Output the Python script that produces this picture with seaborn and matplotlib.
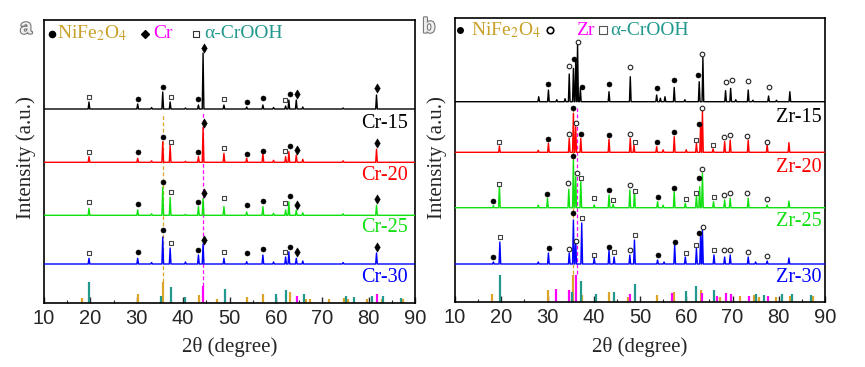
import matplotlib
matplotlib.use("Agg")
import matplotlib.pyplot as plt
import matplotlib.patheffects as pe
from matplotlib.ticker import MultipleLocator
import numpy as np
import pandas as pd
import seaborn as sns

# ------------------------------------------------------------------ data
# Panel a : Cr samples (peak positions in 2theta, peak heights in a.u.)
cr_samples = ["Cr-15", "Cr-20", "Cr-25", "Cr-30"]
cr_peak_pos = [19.7, 30.2, 33.2, 35.6, 37.2, 40.5, 43.3, 44.3, 48.8, 53.7,
               57.2, 59.5, 62.1, 62.8, 64.4, 65.8, 74.5, 81.7]
cr15_int = [7, 5, 1.5, 17, 7, 1, 4, 56, 4, 2, 4, 1.5, 3, 9, 9, 2, 1, 14]
cr20_int = [5.7, 4, 1.5, 20.6, 17.3, 1, 5.7, 35, 9, 4, 9, 2, 5.7, 10.7, 7.3, 3, 1.5, 13]
cr25_int = [7, 5.3, 1.5, 28, 18, 1, 8.7, 17, 8.7, 3.3, 8.7, 2, 5.3, 13.6, 5.3, 2.5, 1.5, 10]
cr30_int = [5.7, 5.7, 1.5, 27, 16, 2, 9, 20, 5.7, 2.3, 9, 2, 7, 12.3, 5.7, 3, 1.5, 11]

cr_mark_pos = [19.7, 30.2, 35.6, 37.3, 43.3, 44.4, 48.9, 53.8, 57.3, 62.0, 63.0, 64.5, 81.7]
cr_mark_type = ["sq", "dot", "dot", "sq", "dot", "dia", "sq", "dot", "dot", "sq", "dot", "dia", "dia"]
cr15_mark_h = [12.3, 9.7, 22.3, 12.3, 9.7, 60.7, 9.7, 6.7, 10.7, 9, 15, 15, 20.7]
cr20_mark_h = [10.6, 10.6, 25, 20.6, 10.6, 39, 14, 8, 11.3, 11.3, 16.6, 12.3, 19]
cr25_mark_h = [13.6, 11, 33.3, 23.3, 13.6, 22, 17.6, 10.3, 14.6, 12, 19.3, 10.6, 16.6]
cr30_mark_h = [11.3, 11.7, 34, 21.3, 14, 24, 12, 10.7, 15, 12, 17.3, 12, 16.7]

# reference cards panel a
a_nife_pos = [18.1, 30.2, 35.7, 43.4, 47.4, 53.8, 57.2, 63.0, 66.4, 67.4, 71.5, 74.6, 75.6, 79.6, 82.8, 87.5]
a_nife_h = [5.3, 9.3, 21, 7.7, 4.3, 6, 8.7, 10.7, 4.3, 4.3, 4.3, 5.3, 4.3, 4.3, 3.7, 4.3]
a_crooh_pos = [19.7, 35.2, 37.3, 40.4, 49.0, 60.1, 62.2, 66.0, 75.1, 76.9, 80.8, 83.0, 87.0]
a_crooh_h = [21, 7.3, 16, 6, 14.3, 8.7, 12.7, 9.3, 6.7, 6, 6.7, 6.7, 5.3]
a_cr_pos = [44.3, 64.6, 81.7]
a_cr_h = [16.7, 7.3, 9.3]

# Panel b : Zr samples
zr_samples = ["Zr-15", "Zr-20", "Zr-25", "Zr-30"]
zr15_pos = [28.1, 30.2, 32.0, 33.8, 34.7, 35.6, 36.1, 36.5, 37.1, 43.3, 47.9, 53.6, 54.4,
            55.4, 57.4, 59.7, 62.8, 63.6, 68.5, 69.6, 70.7, 73.4, 74.4, 77.8, 79.5, 82.4]
zr15_int = [5, 11.7, 2, 3, 27.7, 33.3, 41.7, 58.3, 13.3, 10, 25, 6.7, 3.5,
            5, 14.3, 2, 20, 44.3, 11, 13.3, 2, 11.7, 1.5, 5.7, 1.5, 10]
zr20_pos = [19.6, 28.0, 30.2, 34.7, 35.6, 36.1, 37.2, 43.3, 47.9, 48.7, 53.6, 55.0,
            57.4, 60.0, 62.2, 63.1, 63.5, 65.8, 68.3, 69.5, 73.4, 77.5, 82.2]
zr20_int = [6.3, 2, 9, 14, 39, 25.6, 14, 13, 14, 7.3, 5.6, 2.5,
            15.6, 2.5, 9, 27.3, 42, 3.5, 10.7, 12.3, 12.3, 7.3, 9.7]
zr25_pos = [18.3, 19.6, 28.0, 30.0, 34.6, 35.6, 36.1, 37.2, 40.1, 43.3, 44.2, 47.8, 48.8,
            53.8, 55.0, 57.4, 59.8, 62.2, 62.9, 63.5, 65.9, 68.3, 69.5, 73.4, 77.5, 82.2]
zr25_int = [2, 22.7, 2.5, 9.4, 18.4, 47.7, 31, 26, 2.7, 12.7, 3.4, 17.7, 18.4,
            6, 2.5, 16, 4.4, 12.7, 21, 34.4, 6, 7.7, 9.4, 9.4, 2.7, 6.7]
zr30_pos = [18.3, 19.7, 28.0, 30.2, 34.7, 35.6, 36.1, 37.4, 40.1, 43.3, 44.4, 47.8, 48.8,
            53.8, 55.2, 57.5, 59.8, 62.2, 63.1, 63.5, 66.0, 68.3, 69.5, 73.4, 75.0, 77.5, 82.2]
zr30_int = [2, 22, 2, 11, 11, 44, 24, 41, 6, 14, 7, 9, 24,
            4, 2, 19, 7, 16, 29, 34, 9, 7, 9, 7, 2, 3, 6]

zr15_mark_pos = [30.2, 34.7, 35.7, 36.6, 37.4, 43.3, 47.9, 53.6, 57.4, 62.6, 63.5, 68.5, 69.8, 73.4, 77.8]
zr15_mark_type = ["dot", "circ", "dot", "circ", "dot", "dot", "circ", "dot", "dot", "dot",
                  "circ", "circ", "circ", "circ", "circ"]
zr15_mark_h = [17.4, 36, 42.4, 60, 14.4, 17.4, 34.7, 13.4, 21.7, 26.7, 47.7, 19.4, 21.7, 20.4, 14.4]
zr20_mark_pos = [19.6, 30.2, 34.6, 35.6, 36.1, 37.2, 43.3, 47.8, 48.9, 53.7, 57.4, 62.2, 62.8,
                 63.5, 65.8, 68.2, 69.5, 73.2, 77.5]
zr20_mark_type = ["sq", "dot", "circ", "dot", "circ", "dot", "dot", "circ", "sq", "dot", "dot", "sq",
                  "dot", "circ", "sq", "circ", "circ", "circ", "circ"]
zr20_mark_h = [10.6, 13.3, 18, 44, 29, 18, 17.3, 18.3, 10.6, 10, 20.3, 12.3, 28.3, 44, 7.6,
               15, 17.6, 16.6, 10]
zr25_mark_pos = [18.3, 19.6, 29.9, 34.5, 35.6, 36.3, 37.2, 40.1, 43.3, 44.2, 47.8, 48.9, 53.8,
                 57.4, 59.9, 62.2, 62.8, 63.5, 65.9, 68.2, 69.5, 73.2, 77.5]
zr25_mark_type = ["dot", "sq", "dot", "circ", "dot", "circ", "sq", "sq", "dot", "sq", "circ", "sq",
                  "dot", "dot", "sq", "sq", "dot", "circ", "sq", "circ", "circ", "circ", "circ"]
zr25_mark_h = [7, 23.7, 13.7, 24.4, 51.7, 34.4, 29.4, 9.4, 17.7, 7.7, 22.7, 17, 11, 20, 8.7,
               14.4, 30, 38.4, 11, 13, 15, 15, 8.4]
zr30_mark_pos = [18.3, 19.7, 30.3, 34.6, 35.6, 36.2, 37.4, 40.1, 43.3, 44.4, 47.8, 48.9, 53.8,
                 57.5, 59.9, 62.2, 62.8, 63.6, 66.0, 68.2, 69.5, 73.4, 77.5]
zr30_mark_type = ["dot", "sq", "dot", "circ", "dot", "circ", "sq", "sq", "dot", "sq", "circ", "sq",
                  "dot", "dot", "sq", "sq", "dot", "circ", "sq", "circ", "circ", "circ", "circ"]
zr30_mark_h = [7.3, 27.3, 15.7, 14.7, 51.3, 23, 45.7, 9, 17.3, 12.3, 14, 29, 9,
               22.3, 10.7, 19, 31.3, 36.7, 14, 14, 14, 12.3, 8]

# reference cards panel b
b_nife_pos = [18.1, 30.2, 35.6, 37.4, 43.3, 47.4, 53.7, 57.3, 63.1, 67.2, 71.6, 74.6, 75.7, 79.5, 82.4, 87.4]
b_nife_h = [7.7, 11.7, 26.7, 6.7, 10, 5, 6.7, 10, 12.3, 5, 5.7, 6.7, 5, 5, 5.7, 5.7]
b_zr_pos = [31.8, 34.7, 36.1, 47.9, 57.0, 63.4, 66.7, 68.5, 69.6, 73.5, 77.7]
b_zr_h = [12.7, 12.3, 26.7, 8.3, 9, 9, 5.7, 9, 7.7, 5.7, 5.7]
b_crooh_pos = [19.7, 35.2, 37.2, 40.4, 44.3, 49.0, 60.0, 62.2, 66.0, 75.0, 76.8, 80.8, 82.9, 87.0]
b_crooh_h = [27.3, 10, 20.7, 7.7, 10, 18.3, 10.7, 16, 11.7, 8.3, 7.3, 8.3, 8.3, 7.3]

# ------------------------------------------------------------------ style / layout
W, H = 865, 367
sns.set_style("ticks")
plt.rcParams['font.family'] = ['Liberation Sans', 'DejaVu Sans']
plt.rcParams['mathtext.fontset'] = 'stix'
SERIF = ['Liberation Serif', 'DejaVu Serif']

C_NIFE_TXT = '#C9A02A'
C_NIFE = '#DDA42A'
C_CROOH = '#22998C'
C_MAG = '#FF00FF'
SERIES_COL = ['#000000', '#FF0000', '#11E011', '#0000FF']

cr_offsets = [194, 140.7, 87.7, 39]
zr_offsets = [200.3, 149.7, 94.3, 38]
HW = 0.18

fig = plt.figure(figsize=(W / 100, H / 100), dpi=100)
ax_a = fig.add_axes([44 / W, 1 - 303 / H, 371 / W, 283 / H])
ax_b = fig.add_axes([455 / W, 1 - 302 / H, 370 / W, 284 / H])


def curve(pos, inten, base):
    xs = [10.0, 90.0]
    ys = [base, base]
    for p, h in zip(pos, inten):
        xs += [p - HW, p, p + HW]
        ys += [base, base + h, base]
    order = np.argsort(xs, kind='stable')
    return list(np.array(xs)[order]), list(np.array(ys)[order])


def draw_patterns(ax, names, pos_list, int_list, offsets):
    frames = []
    for n, p, i, o in zip(names, pos_list, int_list, offsets):
        xs, ys = curve(p, i, o)
        frames.append(pd.DataFrame({'x': xs, 'y': ys, 'sample': n}))
    df = pd.concat(frames, ignore_index=True)
    sns.lineplot(data=df, x='x', y='y', hue='sample', palette=SERIES_COL,
                 estimator=None, sort=False, legend=False, lw=1.0, ax=ax, zorder=3)


MK = {
    'dot': dict(marker='o', s=13, facecolors='black', edgecolors='black', linewidths=0.4),
    'dia': dict(marker='d', s=22, facecolors='black', edgecolors='black', linewidths=0.4),
    'sq': dict(marker='s', s=11, facecolors='white', edgecolors='#444444', linewidths=0.8),
    'circ': dict(marker='o', s=11, facecolors='white', edgecolors='#222222', linewidths=0.8),
}


def draw_marks(ax, pos, types, hs, base):
    for p, t, h in zip(pos, types, hs):
        ax.scatter([p], [base + h], zorder=4, **MK[t])


def draw_sticks(ax, pos, hs, color):
    ax.vlines(pos, 0, hs, colors=color, lw=1.6, zorder=2)


# ---------------- panel a
draw_patterns(ax_a, cr_samples, [cr_peak_pos] * 4,
              [cr15_int, cr20_int, cr25_int, cr30_int], cr_offsets)
for hs, o in zip([cr15_mark_h, cr20_mark_h, cr25_mark_h, cr30_mark_h], cr_offsets):
    draw_marks(ax_a, cr_mark_pos, cr_mark_type, hs, o)
draw_sticks(ax_a, a_nife_pos, a_nife_h, C_NIFE)
draw_sticks(ax_a, a_crooh_pos, a_crooh_h, C_CROOH)
draw_sticks(ax_a, a_cr_pos, a_cr_h, C_MAG)
ax_a.vlines([35.7], 21, 190, colors=C_NIFE, lw=0.9, linestyles=(0, (3, 2)), zorder=1)
ax_a.vlines([44.3], 17, 190, colors=C_MAG, lw=0.9, linestyles=(0, (3, 2)), zorder=1)

# ---------------- panel b
draw_patterns(ax_b, zr_samples, [zr15_pos, zr20_pos, zr25_pos, zr30_pos],
              [zr15_int, zr20_int, zr25_int, zr30_int], zr_offsets)
for p, t, hs, o in zip([zr15_mark_pos, zr20_mark_pos, zr25_mark_pos, zr30_mark_pos],
                       [zr15_mark_type, zr20_mark_type, zr25_mark_type, zr30_mark_type],
                       [zr15_mark_h, zr20_mark_h, zr25_mark_h, zr30_mark_h], zr_offsets):
    draw_marks(ax_b, p, t, hs, o)
draw_sticks(ax_b, b_nife_pos, b_nife_h, C_NIFE)
draw_sticks(ax_b, b_crooh_pos, b_crooh_h, C_CROOH)
draw_sticks(ax_b, b_zr_pos, b_zr_h, C_MAG)
ax_b.vlines([35.6], 28, 194, colors=C_NIFE, lw=0.9, linestyles=(0, (3, 2)), zorder=1)
ax_b.vlines([36.3], 28, 194, colors=C_MAG, lw=0.9, linestyles=(0, (3, 2)), zorder=1)

# ---------------- axes formatting
for ax, top in [(ax_a, 283), (ax_b, 284)]:
    ax.set_xlim(10, 90)
    ax.set_ylim(0, top)
    ax.set_yticks([])
    ax.set_xticks(range(10, 91, 10))
    ax.xaxis.set_minor_locator(MultipleLocator(5))
    ax.tick_params(axis='x', which='major', direction='in', length=4, width=1.0,
                   labelsize=14.5, pad=4, top=False)
    ax.tick_params(axis='x', which='minor', direction='in', length=2, width=0.8, top=False)
    ax.set_xlabel('')
    ax.set_ylabel('')
    for s in ax.spines.values():
        s.set_visible(True)
        s.set_linewidth(1.2)
        s.set_color('black')

# series labels
for ax, names, ys, xr in [(ax_a, cr_samples, [179, 128, 75, 25], 88.5),
                          (ax_b, zr_samples, [185, 135, 80, 24], 89.2)]:
    for n, y, c in zip(names, ys, SERIES_COL):
        ax.text(xr, y, n, ha='right', va='center', color=c, fontsize=14.5, family=SERIF)

# legends inside panels
ax_a.scatter([11.7], [269.5], marker='o', s=20, color='black', zorder=5)
ax_a.text(12.7, 264.7, r'NiFe$_2$O$_4$', color=C_NIFE_TXT, fontsize=14, family=SERIF, va='baseline')
ax_a.scatter([31.8], [269.5], marker='D', s=16, color='black', zorder=5)
ax_a.text(33.6, 264.7, 'Cr', color=C_MAG, fontsize=14, family=SERIF, va='baseline')
ax_a.scatter([42.8], [269.5], marker='s', s=22, facecolors='white', edgecolors='#333333',
             linewidths=0.8, zorder=5)
ax_a.text(44.6, 264.7, 'α-CrOOH', color=C_CROOH, fontsize=14, family=SERIF, va='baseline')

ax_b.scatter([11.1], [272], marker='o', s=16, color='black', zorder=5)
ax_b.text(13.4, 267, r'NiFe$_2$O$_4$', color=C_NIFE_TXT, fontsize=14, family=SERIF, va='baseline')
ax_b.scatter([30.6], [272], marker='o', s=22, facecolors='white', edgecolors='black',
             linewidths=1.2, zorder=5)
ax_b.text(36.2, 267, 'Zr', color=C_MAG, fontsize=14, family=SERIF, va='baseline')
ax_b.scatter([42.0], [272], marker='s', s=40, facecolors='white', edgecolors='#555555',
             linewidths=0.8, zorder=5)
ax_b.text(43.6, 267, 'α-CrOOH', color=C_CROOH, fontsize=14, family=SERIF, va='baseline')

# axis titles
for xc in [229.5, 640]:
    fig.text(xc / W, 1 - 347 / H, '2θ (degree)', ha='center', va='center',
             fontsize=15, family=SERIF)
for xc in [26, 437]:
    fig.text(xc / W, 1 - 158 / H, 'Intensity (a.u.)', ha='center', va='center',
             rotation=90, fontsize=15, family=SERIF)

# panel letters
for xc, yc, lt in [(26, 28, 'a'), (429, 27, 'b')]:
    fig.text(xc / W, 1 - yc / H, lt, ha='center', va='center', fontsize=15,
             fontweight='bold', color='#eeeeee',
             path_effects=[pe.withStroke(linewidth=1.6, foreground='#777777')])

fig.savefig('out.png', dpi=100)
